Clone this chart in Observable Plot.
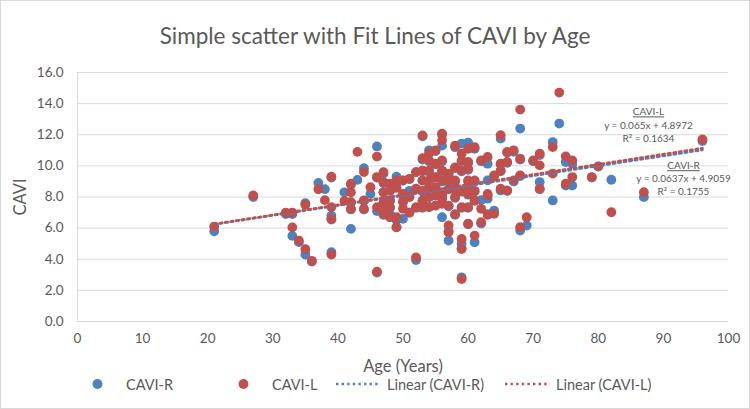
<!DOCTYPE html>
<html><head><meta charset="utf-8">
<script src="https://cdn.jsdelivr.net/npm/d3@7"></script>
<script src="https://cdn.jsdelivr.net/npm/@observablehq/plot@0.6"></script>
<style>
body{margin:0;background:#fff;font-family:Lato,"Open Sans",sans-serif;}
#chart{position:relative;width:750px;height:409px;outline:1px solid #d9d9d9;outline-offset:-1px;overflow:hidden;background:#fff;}
#title{position:absolute;left:0;top:23px;width:750px;text-align:center;font-size:22.5px;line-height:26px;color:#595959;}
#plot{position:absolute;left:0;top:62px;}
.leg{position:absolute;top:375px;height:18px;display:flex;align-items:center;font-size:14.5px;color:#595959;white-space:nowrap;}
.leg svg{margin-right:6px;}
</style></head>
<body>
<div id="chart">
  <div id="title"></div>
  <div id="plot"></div>
  <div id="legend"></div>
</div>
<script>
// ---- data ----
const titleText = "Simple scatter with Fit Lines of CAVI by Age";
const seriesNames = ["CAVI-R", "CAVI-L"];
const colors = ["#4F81BD", "#C0504D"];
const ages = [21,27,32,33,33,34,35,35,36,37,38,39,39,39,39,41,42,42,42,42,43,44,44,44,45,46,46,46,46,
  47,47,47,47,47,47,48,48,48,48,48,49,49,49,49,50,50,50,50,51,51,51,52,52,52,52,
  53,53,53,53,53,53,53,54,54,54,54,54,54,54,55,55,55,55,55,55,56,56,56,56,56,56,56,56,
  57,57,57,57,57,57,58,58,58,58,58,58,59,59,59,59,59,59,59,59,60,60,60,60,60,60,60,60,
  61,61,61,61,61,62,62,62,63,63,63,63,64,64,65,65,65,65,66,66,66,67,67,68,68,68,68,69,70,
  71,71,71,73,73,74,75,75,76,76,79,80,82,87,96];
const caviR = [5.8,8.0,6.9,6.9,5.5,5.1,7.6,4.3,3.85,8.9,8.5,9.25,6.8,6.55,4.45,8.3,5.95,8.8,7.65,7.2,9.1,9.85,7.75,7.2,8.2,11.25,9.25,7.1,3.15,
  9.5,8.9,8.3,7.6,6.85,7.2,8.8,8.4,7.75,7.3,6.9,9.3,6.5,6.05,8.6,9.05,8.15,6.6,7.7,9.15,8.4,7.0,8.5,7.3,3.95,9.6,
  11.9,10.4,9.65,9.05,8.35,7.75,7.3,11.0,10.3,9.6,9.05,8.6,7.35,8.0,10.95,10.1,9.25,8.6,7.45,8.1,12.0,11.3,10.3,9.65,9.0,8.2,6.7,7.9,
  9.45,9.0,7.4,5.2,5.8,8.5,11.2,9.85,9.0,7.95,6.85,8.6,11.43,10.3,9.65,8.35,7.3,5.0,4.7,2.84,11.5,10.2,9.75,9.0,8.15,7.3,6.25,8.7,
  11.1,9.0,8.35,7.75,5.09,10.3,7.8,6.3,10.14,9.07,7.89,6.9,9.35,7.13,11.75,10.1,9.65,8.42,10.85,10.2,8.4,10.9,9.0,12.4,10.4,9.35,5.84,6.17,10.3,
  10.7,8.96,8.5,11.53,7.78,12.72,10.25,8.74,10.14,8.74,9.25,9.95,9.11,7.99,11.6];
const caviL = [6.1,8.1,7.0,7.0,6.05,5.2,7.5,4.65,3.9,8.5,7.8,9.3,7.35,6.6,4.3,7.75,8.3,8.85,7.67,7.24,10.9,9.6,7.78,7.24,8.63,10.6,9.28,7.35,3.2,
  9.6,8.96,8.3,7.67,6.9,7.2,8.85,8.42,7.78,7.35,6.7,9.07,6.7,6.06,8.6,9.07,8.2,7.24,7.7,9.17,8.0,7.0,8.53,7.35,4.12,9.6,
  11.96,10.5,9.7,9.07,8.4,7.78,7.35,10.8,10.35,9.7,9.07,8.63,7.35,8.0,11.0,10.14,9.28,8.63,7.45,8.1,12.07,11.64,10.35,9.7,9.07,8.2,7.56,7.9,
  9.5,9.07,7.45,6.17,5.73,8.5,11.3,9.9,9.07,8.0,6.9,8.5,10.78,10.35,9.7,8.4,7.35,5.3,4.66,2.73,11.1,10.25,9.82,9.07,8.2,7.35,6.28,8.7,
  11.2,9.07,8.4,7.78,5.52,10.35,7.24,6.38,10.57,8.1,8.2,6.85,9.39,6.92,11.97,10.14,9.7,8.53,10.89,10.25,8.42,11.0,9.07,13.62,10.46,9.39,6.06,6.7,10.35,
  10.78,10.03,8.53,11.21,9.5,14.71,10.61,8.85,10.35,9.28,9.28,9.97,7.02,8.31,11.7];
const slopes = [0.0637, 0.065];
const intercepts = [4.9059, 4.8972];
const r2s = [0.1755, 0.1634];
const xTicks = [0,10,20,30,40,50,60,70,80,90,100];
const yTicks = [0,2,4,6,8,10,12,14,16];
const xLabel = "Age (Years)";
const yLabel = "CAVI";
const legendLabels = ["CAVI-R", "CAVI-L", "Linear (CAVI-R)", "Linear (CAVI-L)"];

// ---- build ----
document.getElementById("title").textContent = titleText;
const rows = ages.map((a, i) => ({age: a, r: caviR[i], l: caviL[i]}));
const xr = d3.extent(ages);
const fits = seriesNames.map((name, i) => ({name, slope: slopes[i], intercept: intercepts[i], r2: r2s[i], color: colors[i],
  xEnd: xr[1], yEnd: slopes[i] * xr[1] + intercepts[i]}));
const fitLine = f => xr.map(x => ({x, y: f.slope * x + f.intercept}));
const txt = {fill: "#595959", fontSize: 10, textAnchor: "middle"};
const fL = fits[1], fR = fits[0];
const dash = "2.4 3.2";

const plot = Plot.plot({
  width: 750, height: 313,
  marginLeft: 77, marginRight: 22, marginTop: 10, marginBottom: 54,
  style: {fontFamily: "Lato, 'Open Sans', sans-serif", color: "#595959", background: "transparent"},
  x: {domain: [0, 100]},
  y: {domain: [0, 16]},
  marks: [
    Plot.gridY(yTicks, {stroke: "#d9d9d9", strokeOpacity: 1}),
    Plot.ruleX([0], {stroke: "#d9d9d9"}),
    Plot.ruleY([0], {stroke: "#d9d9d9"}),
    Plot.axisY({ticks: yTicks, tickSize: 0, tickPadding: 14, tickFormat: d3.format(".1f"), fontSize: 13.5,
      label: yLabel, labelAnchor: "center", labelOffset: 63, labelArrow: "none"}),
    Plot.axisX({ticks: xTicks, tickSize: 0, tickPadding: 12, fontSize: 13.5,
      label: xLabel, labelAnchor: "center", labelOffset: 50, labelArrow: "none"}),
    Plot.dot(rows, {x: "age", y: "r", r: 4.9, fill: colors[0], stroke: "none"}),
    Plot.dot(rows, {x: "age", y: "l", r: 4.9, fill: colors[1], stroke: "none"}),
    ...fits.map(f => Plot.line(fitLine(f), {x: "x", y: "y", stroke: f.color, strokeWidth: 2.6, strokeDasharray: dash})),
    Plot.text([fL], {x: "xEnd", y: "yEnd", text: d => d.name, dx: -54, dy: -36, ...txt}),
    Plot.text([fL], {x: "xEnd", y: "yEnd", text: d => `y = ${d.slope}x + ${d.intercept}`, dx: -54, dy: -22, ...txt}),
    Plot.text([fL], {x: "xEnd", y: "yEnd", text: d => `R² = ${d.r2}`, dx: -54, dy: -9, ...txt}),
    Plot.text([fR], {x: "xEnd", y: "yEnd", text: d => d.name, dx: -19, dy: 16, ...txt}),
    Plot.text([fR], {x: "xEnd", y: "yEnd", text: d => `y = ${d.slope}x + ${d.intercept}`, dx: -19, dy: 29, ...txt}),
    Plot.text([fR], {x: "xEnd", y: "yEnd", text: d => `R² = ${d.r2}`, dx: -19, dy: 42, ...txt})
  ]
});
document.getElementById("plot").appendChild(plot);
// underline series names, bigger axis titles
d3.select(plot).selectAll("text").filter(function(){ return seriesNames.includes(this.textContent); })
  .style("text-decoration", "underline");
d3.select(plot).selectAll('[aria-label="y-axis label"] text, [aria-label="x-axis label"] text').attr("font-size", 16.5);

// legend
const legLeft = [75, 221, 336, 505];
const leg = document.getElementById("legend");
legendLabels.forEach((lab, i) => {
  const d = document.createElement("div");
  d.className = "leg";
  d.style.left = legLeft[i] + "px";
  const c = colors[i % 2];
  const sw = i < 2
    ? `<svg width="45" height="12"><circle cx="22.5" cy="6" r="5" fill="${c}"/></svg>`
    : `<svg width="45" height="12"><line x1="0" x2="45" y1="6" y2="6" stroke="${c}" stroke-width="2.6" stroke-dasharray="${dash}"/></svg>`;
  d.innerHTML = sw + `<span>${lab}</span>`;
  leg.appendChild(d);
});
</script>
</body></html>
